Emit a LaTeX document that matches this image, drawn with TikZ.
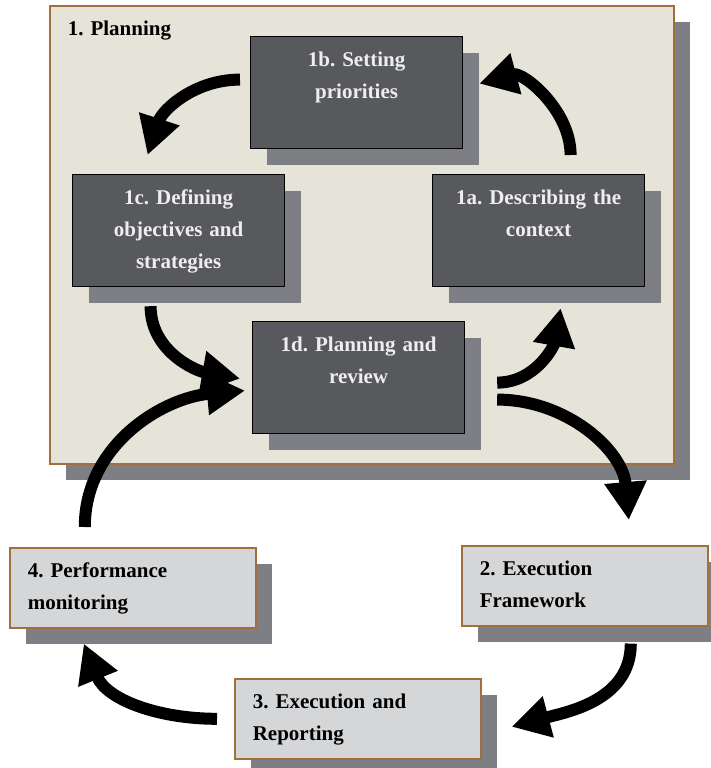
\documentclass[tikz,border=0pt]{standalone}
\usepackage{fontspec}
\setmainfont{Liberation Serif}
\usetikzlibrary{arrows.meta,shadows}

\definecolor{paper}{HTML}{E6E3D9}
\definecolor{rim}{HTML}{A0703C}
\definecolor{slate}{HTML}{58595D}
\definecolor{shade}{HTML}{7E7F84}
\definecolor{mist}{HTML}{D5D6D8}
\definecolor{chalk}{HTML}{EEEEEE}

\begin{document}
\frenchspacing
\begin{tikzpicture}[x=1pt, y=1pt,
	every node/.style = {shape=rectangle, inner sep=0pt, anchor=north west,
		font=\bfseries\fontsize{21}{32}\selectfont, text height=30pt},
	hull/.style = {draw=rim, line width=1.6pt, fill=paper, text=black,
		align=left, text width=588pt, inner xsep=18pt, text depth=428pt,
		drop shadow={shadow xshift=16pt, shadow yshift=-16pt, fill=shade, opacity=1}},
	darkbox/.style = {draw=black, line width=1.2pt, fill=slate, text=chalk,
		align=center, text width=200pt, inner xsep=6pt, text depth=82pt,
		drop shadow={shadow xshift=16pt, shadow yshift=-16pt, fill=shade, opacity=1}},
	lightbox/.style = {draw=rim, line width=1.6pt, fill=mist, text=black,
		align=left, text width=210pt, inner xsep=18pt, text depth=50pt,
		drop shadow={shadow xshift=16pt, shadow yshift=-16pt, fill=shade, opacity=1}},
	loop arrow/.style = {line width=12pt, -{Triangle[width=40pt,length=38pt]}}]
	\useasboundingbox (0,0) rectangle (711,-768);

	% planning stage
	\node[hull] (planning) at (49,-5) {1. Planning};
	\node[darkbox] (priorities) at (250,-36) {1b. Setting\\priorities};
	\node[darkbox] (objectives) at (72,-174) {1c. Defining\\objectives and\\strategies};
	\node[darkbox] (context) at (432,-174) {1a. Describing the\\context};
	\node[darkbox] (review) at (252,-321) {1d. Planning and\\review};

	% outer cycle
	\node[lightbox] (framework) at (461,-545) {2. Execution\\Framework};
	\node[lightbox] (reporting) at (234,-678) {3. Execution and\\Reporting};
	\node[lightbox] (monitoring) at (9,-547) {4. Performance\\monitoring};

	\draw[loop arrow] ([shift={(32,19)}]context.north) to[out=90, in=15] ([shift={(16,9)}]priorities.east);
	\draw[loop arrow] ([shift={(-10,13)}]priorities.west) to[out=180, in=72] ([shift={(-31,19)}]objectives.north);
	\draw[loop arrow] ([shift={(-28,-19)}]objectives.south) to[out=-90, in=170] ([shift={(-12,-1)}]review.west);
	\draw[loop arrow] ([shift={(32,-5)}]review.east) to[out=0, in=-100] ([shift={(22,-21)}]context.south);
	\draw[loop arrow] ([shift={(32,-22)}]review.east) to[out=0, in=95] ([shift={(44,25)}]framework.north);
	\draw[loop arrow] ([shift={(46,-17)}]framework.south) to[out=-90, in=15] ([shift={(30,-8)}]reporting.east);
	\draw[loop arrow] ([shift={(-17,0)}]reporting.west) to[out=180, in=-68] ([shift={(-49,-15)}]monitoring.south);
	\draw[loop arrow] ([shift={(-48,20)}]monitoring.north) to[out=90, in=185] ([shift={(-7,-13)}]review.west);
\end{tikzpicture}
\end{document}
